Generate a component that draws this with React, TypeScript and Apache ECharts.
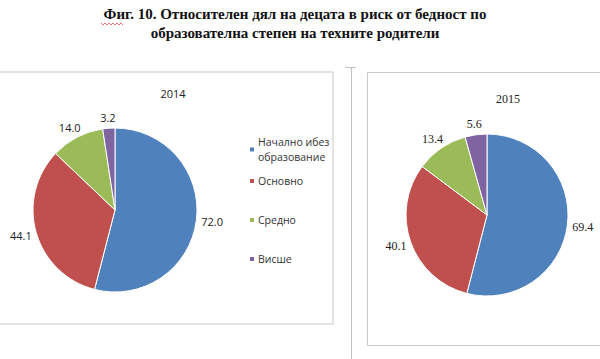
import React, { useEffect, useRef } from "react";
import * as echarts from "echarts";

const legendNames = ["Начално ибез\nобразование", "Основно", "Средно", "Висше"];
const values2014 = [72.0, 44.1, 14.0, 3.2];
const values2015 = [69.4, 40.1, 13.4, 5.6];
const colors = ["#4F81BD", "#C0504D", "#9BBB59", "#8064A2"];
const titleLines = [
  "Фиг. 10. Относителен дял на децата в риск от бедност по",
  "образователна степен на техните родители",
];

const center2014 = [115, 210];
const center2015 = [487, 215];
const radius2014 = 82;
const radius2015 = 81;
const labelGap = 5;

export default function App() {
  const ref = useRef<HTMLDivElement>(null);
  useEffect(() => {
    if (!ref.current) return;
    const chart = echarts.init(ref.current, null, { renderer: "svg" });
    const mk = (vals: number[]) =>
      vals.map((v, i) => ({ name: legendNames[i], value: v, itemStyle: { color: colors[i] } }));
    const wave: number[][] = [];
    for (let k = 0; k <= 11; k++) wave.push([101 + k * 2, k % 2 === 0 ? 23 : 25]);
    const legendTops = [134.5, 173.5, 212.5, 251.5];

    const makeLayout = (c: number[], r: number) => (p: any) => {
      const pts = p.labelLinePoints;
      if (!pts || !pts[0]) return {};
      const dx = pts[0][0] - c[0];
      const dy = pts[0][1] - c[1];
      const len = Math.sqrt(dx * dx + dy * dy) || 1;
      const ux = dx / len;
      const uy = dy / len;
      const w = p.labelRect.width;
      const h = p.labelRect.height;
      return {
        x: c[0] + ux * (r + labelGap) + (ux * w) / 2,
        y: c[1] + uy * (r + labelGap) + (uy * h) / 2,
        align: "center",
        verticalAlign: "middle",
      };
    };

    const pieBase = {
      type: "pie",
      startAngle: 90,
      clockwise: true,
      itemStyle: { borderColor: "#fff", borderWidth: 1 },
      labelLine: { show: true, length: 6, length2: 0, lineStyle: { width: 0, opacity: 0 } },
      emphasis: { disabled: true },
      silent: true,
    };

    chart.setOption({
      animation: false,
      backgroundColor: "#ffffff",
      title: [
        {
          text: titleLines.join("\n"),
          left: 290,
          top: -1,
          textAlign: "center",
          textStyle: {
            fontFamily: "Liberation Serif",
            fontWeight: "bold",
            fontSize: 15,
            lineHeight: 19,
            color: "#111",
          },
        },
        {
          text: "2014",
          left: 168,
          top: 83,
          textAlign: "center",
          textStyle: { fontFamily: "Open Sans", fontWeight: "normal", fontSize: 11, color: "#222" },
        },
        {
          text: "2015",
          left: 503,
          top: 88,
          textAlign: "center",
          textStyle: { fontFamily: "Liberation Serif", fontWeight: "normal", fontSize: 12, color: "#222" },
        },
      ],
      legend: legendNames.map((n, i) => ({
        data: [n],
        left: 248,
        top: legendTops[i],
        padding: 0,
        orient: "vertical",
        icon: "rect",
        itemWidth: 6,
        itemHeight: 6,
        itemGap: 0,
        selectedMode: false,
        textStyle: {
          fontFamily: "Open Sans",
          fontSize: 10.5,
          color: "#333",
          lineHeight: 15,
          padding: [0, 0, 0, -2],
        },
      })),
      graphic: [
        {
          type: "rect",
          shape: { x: -1, y: 72, width: 334, height: 252 },
          style: { fill: "none", stroke: "#c8c8c8", lineWidth: 1 },
          silent: true,
        },
        {
          type: "rect",
          shape: { x: 367.5, y: 72.5, width: 260, height: 273 },
          style: { fill: "none", stroke: "#c8c8c8", lineWidth: 1 },
          silent: true,
        },
        {
          type: "line",
          shape: { x1: 351.5, y1: 67, x2: 351.5, y2: 360 },
          style: { stroke: "#c0c0c0", lineWidth: 1 },
          silent: true,
        },
        {
          type: "line",
          shape: { x1: 345, y1: 67.5, x2: 356, y2: 67.5 },
          style: { stroke: "#c0c0c0", lineWidth: 1 },
          silent: true,
        },
        {
          type: "polyline",
          shape: { points: wave },
          style: { stroke: "#e05050", lineWidth: 0.8, fill: "none" },
          silent: true,
        },
      ],
      series: [
        {
          ...pieBase,
          name: "2014",
          center: center2014,
          radius: radius2014,
          data: mk(values2014),
          label: {
            show: true,
            position: "outside",
            overflow: "none",
            formatter: (p: any) => p.value.toFixed(1),
            fontFamily: "Open Sans",
            fontSize: 11,
            color: "#222",
          },
          labelLayout: makeLayout(center2014, radius2014),
        },
        {
          ...pieBase,
          name: "2015",
          center: center2015,
          radius: radius2015,
          data: mk(values2015),
          label: {
            show: true,
            position: "outside",
            overflow: "none",
            formatter: (p: any) => p.value.toFixed(1),
            fontFamily: "Liberation Serif",
            fontSize: 12,
            color: "#222",
          },
          labelLayout: makeLayout(center2015, radius2015),
        },
      ],
    });
    return () => chart.dispose();
  }, []);
  return (
    <div
      ref={ref}
      style={{ position: "fixed", left: 0, top: 0, width: 600, height: 359 }}
    />
  );
}
